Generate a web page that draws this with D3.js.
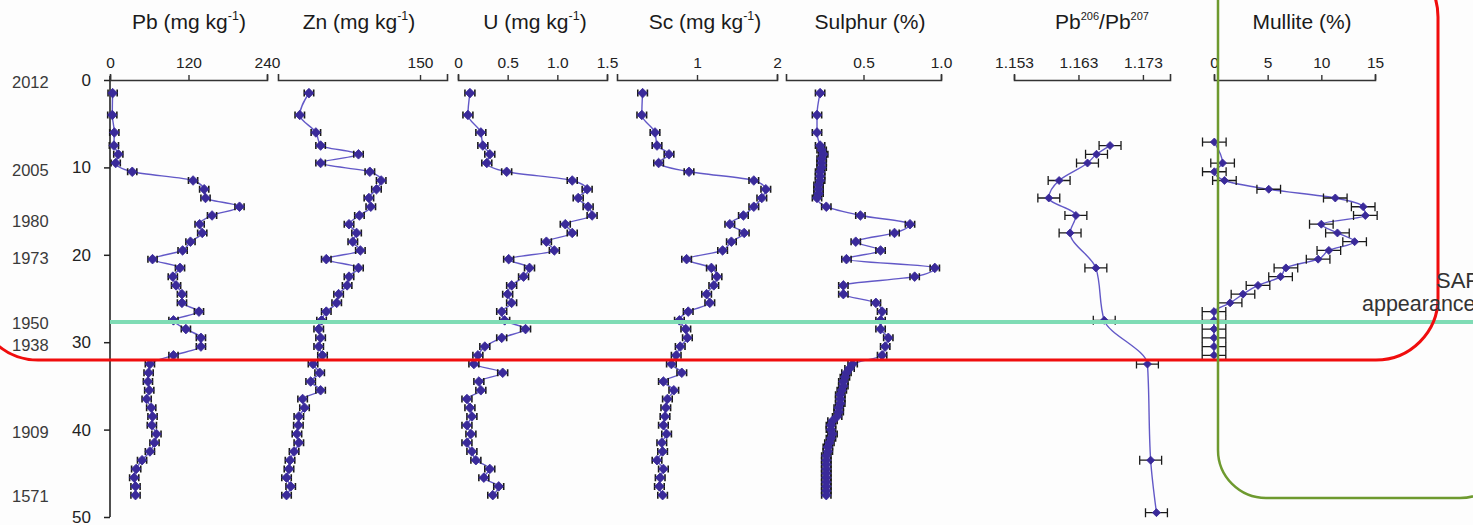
<!DOCTYPE html>
<html><head><meta charset="utf-8">
<script src="https://cdn.jsdelivr.net/npm/d3@7"></script>
<style>
body{margin:0;background:#fdfdfd;}
svg{display:block;font-family:"Liberation Sans",Arial,sans-serif;}
</style></head>
<body><svg id="chart" width="1473" height="525"></svg>
<script>
// ---------- data ----------
const depthTicks = [0, 10, 20, 30, 40, 50];
const yearLabels = ["2012", "2005", "1980", "1973", "1950", "1938", "1909", "1571"];
const yearDepths = [0.3, 10.3, 16.2, 20.4, 27.8, 30.4, 40.3, 47.6];

const depthsMain = [1.5,4,6,7.5,8.5,9.5,10.5,11.5,12.5,13.5,14.5,15.5,16.5,17.5,18.5,19.5,20.5,21.5,22.5,23.5,24.5,25.5,26.5,27.5,28.5,29.5,30.5,31.5,32.5,33.5,34.5,35.5,36.5,37.5,38.5,39.5,40.5,41.5,42.5,43.5,44.5,45.5,46.5,47.5];
const pbValues = [4,3.5,6.6,6,12.7,8.7,34,127,144,146,198,156,137,141,123,111,65,107,96,101,110,110,136,97,116,139,139,97,61,59,58,60,56,63,65,64,71,68,61,49,40,37,39,39];
const znValues = [32.7,23,40,45,85,45,97,109,104,96,98,86,75,83,79,87,51,85,75,73,64,62,51,46,43,45,43,47,37,44,34.5,45,26,28,22,21.5,20,22,17,12.7,11.6,9,13.4,9];
const uValues = [0.12,0.10,0.23,0.25,0.32,0.29,0.49,1.15,1.30,1.21,1.31,1.35,1.08,1.15,0.89,0.97,0.51,0.72,0.66,0.54,0.50,0.54,0.44,0.47,0.68,0.44,0.27,0.20,0.16,0.45,0.21,0.23,0.09,0.12,0.14,0.09,0.13,0.09,0.14,0.18,0.32,0.26,0.41,0.35];
const scValues = [0.32,0.31,0.475,0.50,0.65,0.52,0.90,1.71,1.86,1.81,1.71,1.58,1.41,1.59,1.43,1.32,0.87,1.18,1.25,1.21,1.12,1.16,0.89,0.78,0.86,0.88,0.79,0.74,0.68,0.81,0.58,0.71,0.63,0.61,0.60,0.58,0.62,0.56,0.57,0.50,0.58,0.54,0.53,0.57];

const sulphurDepths = [1.5,4,6,7.5,8,8.5,9,9.5,10,10.5,11,11.5,12,12.5,13,13.5,14.5,15.5,16.5,17.5,18.5,19.5,20.5,21.5,22.5,23.5,24.5,25.5,26.5,27.5,28.5,29.5,30.5,31.5,32.5,33,33.5,34,34.5,35,35.5,36,36.5,37,37.5,38,38.5,39,39.5,40,40.5,41,41.5,42,42.5,43,43.5,44,44.5,45,45.5,46,46.5,47,47.5];
const sulphurValues = [0.22,0.20,0.20,0.22,0.23,0.24,0.23,0.23,0.23,0.22,0.22,0.22,0.21,0.21,0.21,0.20,0.26,0.48,0.80,0.70,0.45,0.61,0.39,0.96,0.83,0.37,0.37,0.58,0.62,0.61,0.61,0.66,0.64,0.62,0.43,0.41,0.39,0.38,0.37,0.37,0.36,0.35,0.35,0.35,0.34,0.34,0.33,0.30,0.29,0.29,0.30,0.29,0.28,0.27,0.27,0.26,0.26,0.26,0.26,0.26,0.26,0.26,0.26,0.26,0.26];

const isoDepths = [7.5,8.5,9.5,11.5,13.5,15.5,17.5,21.5,27.5,32.5,43.5,49.5];
const isoValues = [1.1679,1.1658,1.1644,1.1600,1.1584,1.1626,1.1617,1.1657,1.1670,1.1737,1.1742,1.1751];

const mulliteDepths = [7.1,9.5,10.5,11.5,12.5,13.5,14.5,15.5,16.5,17.5,18.5,19.5,20.5,21.5,22.5,23.5,24.5,25.5,26.5,27.5,28.5,29.5,30.5,31.5];
const mulliteValues = [0.03,0.8,0.03,0.97,5.1,11.3,13.9,14.1,10.0,11.5,13.1,10.7,9.7,6.7,6.2,4.1,2.7,1.5,0,0,0,0,0,0];

const titles = ["Pb (mg kg", "Zn (mg kg", "U (mg kg", "Sc (mg kg", "Sulphur (%)", "Pb", "Mullite (%)"];
const sarDepth = 27.7;

// ---------- panels ----------
const panels = [
  {title: titles[0], sup: "-1", tail: ")", tx: 189, depths: depthsMain, values: pbValues, err: 7, domain: [0, 240], range: [110, 267], ticks: [0, 120, 240], fmt: d => String(d)},
  {title: titles[1], sup: "-1", tail: ")", tx: 359, depths: depthsMain, values: znValues, err: 5, domain: [0, 178.5], range: [278, 447], ticks: [150], fmt: d => String(d)},
  {title: titles[2], sup: "-1", tail: ")", tx: 535, depths: depthsMain, values: uValues, err: 0.05, domain: [0, 1.5], range: [458, 607], ticks: [0, 0.5, 1.0, 1.5], fmt: d => d === 0 ? "0" : d3.format(".1f")(d)},
  {title: titles[3], sup: "-1", tail: ")", tx: 705, depths: depthsMain, values: scValues, err: 0.06, domain: [0, 2], range: [617, 777], ticks: [1, 2], fmt: d => String(d)},
  {title: titles[4], tx: 870, depths: sulphurDepths, values: sulphurValues, err: 0.03, domain: [0, 1], range: [786, 941], ticks: [0.5, 1.0], fmt: d3.format(".1f")},
  {title: titles[5], iso: true, tx: 1102, depths: isoDepths, values: isoValues, err: 0.0017, domain: [1.153, 1.1772], range: [1014, 1170], ticks: [1.153, 1.163, 1.173], fmt: d3.format(".3f"), small: true},
  {title: titles[6], tx: 1302, depths: mulliteDepths, values: mulliteValues, err: 1.1, domain: [0, 15], range: [1214, 1375], ticks: [0, 5, 10, 15], fmt: d => String(d), small: true}
];

const svg = d3.select("#chart");
const y = d3.scaleLinear().domain([0, 50]).range([80, 517]);
const axisY = 80;

// depth axis
const gy = svg.append("g").attr("transform", "translate(110,0)")
  .call(d3.axisLeft(y).tickValues(depthTicks).tickSize(6).tickPadding(13).tickSizeOuter(0));
gy.select(".domain").attr("stroke", "#222").attr("stroke-width", 1.6).attr("d", "M0,76V517");
gy.selectAll(".tick line").attr("stroke", "#222").attr("stroke-width", 1.5);
gy.selectAll(".tick text").attr("font-size", 17).attr("fill", "#222").attr("font-family", "Liberation Sans, Arial, sans-serif");

// year labels
svg.append("g").selectAll("text").data(yearLabels).join("text")
  .attr("x", 12).attr("y", (d, i) => y(yearDepths[i])).attr("dy", "0.35em")
  .attr("font-size", 16.5).attr("fill", "#3a3a3a").text(d => d);

const lineColor = "#5a4fc4", markColor = "#3a2a9a";

panels.forEach(p => {
  const x = d3.scaleLinear().domain(p.domain).range(p.range);
  // top axis
  const ga = svg.append("g").attr("transform", `translate(0,${axisY})`)
    .call(d3.axisTop(x).tickValues(p.ticks).tickFormat(p.fmt).tickSize(5).tickSizeOuter(6).tickPadding(7));
  ga.select(".domain").attr("stroke", "#333").attr("stroke-width", 1.6);
  ga.selectAll(".tick line").attr("stroke", "#333").attr("stroke-width", 1.4);
  ga.selectAll(".tick text").attr("font-size", 15.5).attr("fill", "#222").attr("font-family", "Liberation Sans, Arial, sans-serif");

  // title
  const t = svg.append("text").attr("x", p.tx).attr("y", 29).attr("text-anchor", "middle")
    .attr("font-size", 21).attr("fill", "#1a1a1a");
  if (p.iso) {
    t.append("tspan").text("Pb");
    t.append("tspan").attr("font-size", 11).attr("dy", -9).text("206");
    t.append("tspan").attr("dy", 9).text("/Pb");
    t.append("tspan").attr("font-size", 11).attr("dy", -9).text("207");
  } else if (p.sup) {
    t.append("tspan").text(p.title);
    t.append("tspan").attr("font-size", 12.5).attr("dy", -9).text(p.sup);
    t.append("tspan").attr("dy", 9).text(p.tail);
  } else {
    t.text(p.title);
  }

  const pts = p.values.map((v, i) => ({v, d: p.depths[i]}));
  const line = d3.line().x(d => x(d.v)).y(d => y(d.d)).curve(d3.curveMonotoneY);
  svg.append("path").datum(pts).attr("d", line).attr("fill", "none")
    .attr("stroke", lineColor).attr("stroke-width", 1.4).attr("opacity", 0.95);

  const capH = p.small ? 4.5 : 3.5;
  const eb = svg.append("g").attr("stroke", "#1a1a1a").attr("stroke-width", p.small ? 1.3 : 1.6).attr("fill", "none");
  eb.selectAll("path").data(pts).join("path")
    .attr("d", d => {
      const x0 = x(d.v - p.err), x1 = x(d.v + p.err), yy = y(d.d);
      return `M${x0},${yy}H${x1}M${x0},${yy - capH}V${yy + capH}M${x1},${yy - capH}V${yy + capH}`;
    });

  const sym = d3.symbol().type(d3.symbolSquare).size(p.small ? 32 : 46);
  svg.append("g").selectAll("path").data(pts).join("path")
    .attr("d", sym)
    .attr("transform", d => `translate(${x(d.v)},${y(d.d)}) rotate(45)`)
    .attr("fill", markColor).attr("stroke", markColor).attr("stroke-width", 0.8);
});

// SAR line
svg.append("line").attr("x1", 110).attr("x2", 1473).attr("y1", y(sarDepth)).attr("y2", y(sarDepth))
  .attr("stroke", "#7fdcb5").attr("stroke-width", 4);

// highlight boxes
svg.append("rect").attr("x", -24).attr("y", -45).attr("width", 1462).attr("height", 405)
  .attr("rx", 62).attr("ry", 62).attr("fill", "none").attr("stroke", "#f00d0d").attr("stroke-width", 3);
svg.append("rect").attr("x", 1218).attr("y", -60).attr("width", 290).attr("height", 558)
  .attr("rx", 48).attr("ry", 48).attr("fill", "none").attr("stroke", "#6e9a2f").attr("stroke-width", 2.5);

// SAR annotation
svg.append("text").attr("x", 1436).attr("y", 288).attr("font-size", 22).attr("fill", "#333").text("SAP");
svg.append("text").attr("x", 1362).attr("y", 311).attr("font-size", 21.5).attr("fill", "#333").text("appearance");
</script></body></html>
